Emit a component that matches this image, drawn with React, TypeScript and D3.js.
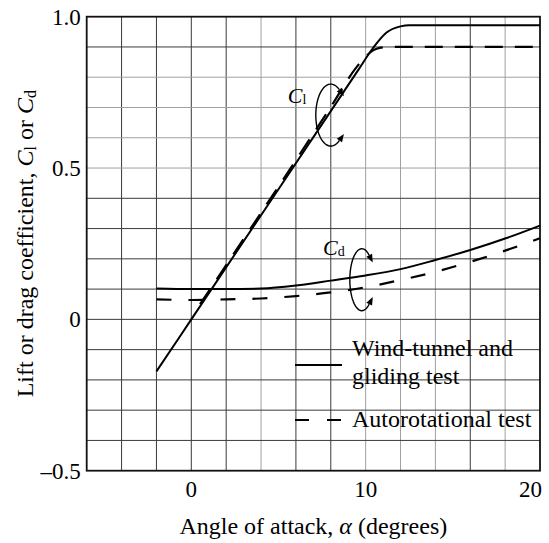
import React from 'react';
import * as d3 from 'd3';

// Lift coefficient, wind-tunnel and gliding test
const alphaClWind = [-2, 0, 4, 8, 9.6, 10.4, 11.2, 12, 12.5, 16, 20];
const clWind = [-0.172, 0, 0.344, 0.688, 0.826, 0.895, 0.948, 0.968, 0.972, 0.972, 0.972];

// Lift coefficient, autorotational test
const alphaClAuto = [0.5, 4, 8, 9.5, 10.0, 10.4, 10.8, 11.3, 12, 16, 20];
const clAuto = [0.05, 0.352, 0.702, 0.835, 0.868, 0.888, 0.897, 0.9, 0.9, 0.9, 0.9];

// Drag coefficient
const alphaCd = [-2, 0, 2, 4, 6, 8, 10, 12, 14, 16, 18, 20];
const cdWind = [0.102, 0.1, 0.1, 0.102, 0.112, 0.128, 0.145, 0.166, 0.196, 0.229, 0.267, 0.31];
const cdAuto = [0.066, 0.064, 0.066, 0.069, 0.077, 0.089, 0.106, 0.13, 0.157, 0.19, 0.227, 0.268];

const xTicks = [0, 10, 20];
const xTickLabels = ['0', '10', '20'];
const yTicks = [1.0, 0.5, 0, -0.5];
const yTickLabels = ['1.0', '0.5', '0', '\u20130.5'];

const legendWindLines = ['Wind-tunnel and', 'gliding test'];
const legendAutoLine = 'Autorotational test';

const W = 549;
const H = 543;
const left = 86.7;
const right = 540;
const top = 16.7;
const bottom = 470.7;

const x = d3.scaleLinear().domain([-6, 20]).range([left, right]);
const y = d3.scaleLinear().domain([-0.5, 1.0]).range([bottom, top]);

const xGrid = d3.range(-4, 20, 2);
const yGrid = d3.range(-4, 10).map((k) => k / 10);
const darkX = new Set([-4, -2, 0, 2, 6, 8, 16]);
const darkY = new Set([0.9, 0.4, 0.3, 0.2, 0.1, 0, -0.1, -0.2, -0.3, -0.4]);

const serif = "'Liberation Serif', 'Times New Roman', serif";

const line = d3
  .line<[number, number]>()
  .x((d) => x(d[0]))
  .y((d) => y(d[1]))
  .curve(d3.curveMonotoneX);

const zip = (a: number[], b: number[]) => a.map((v, i) => [v, b[i]] as [number, number]);

// Curved double-headed arrow drawn as a partial ellipse around a pair of curves
function curlyArrow(cxData: number, cyData: number, rx: number, ry: number, a0: number) {
  const cx = x(cxData);
  const cy = y(cyData);
  const start = (-a0 * Math.PI) / 180;
  const end = start - (2 * Math.PI - (2 * a0 * Math.PI) / 180);
  const pts = d3.range(0, 41).map((i) => {
    const t = start + ((end - start) * i) / 40;
    return [cx + rx * Math.cos(t), cy + ry * Math.sin(t)] as [number, number];
  });
  const path = d3.line()(pts) || '';
  const head = (t: number, sign: number) => {
    const px = cx + rx * Math.cos(t);
    const py = cy + ry * Math.sin(t);
    let dx = -rx * Math.sin(t) * sign;
    let dy = ry * Math.cos(t) * sign;
    const n = Math.hypot(dx, dy);
    dx /= n;
    dy /= n;
    const len = 8;
    const w = 3.2;
    const tip = [px + dx * len, py + dy * len];
    const b1 = [px - dy * w, py + dx * w];
    const b2 = [px + dy * w, py - dx * w];
    return `M${tip[0]},${tip[1]}L${b1[0]},${b1[1]}L${b2[0]},${b2[1]}Z`;
  };
  return { path, heads: [head(start, 1), head(end, -1)] };
}

export default function App() {
  const clArrow = curlyArrow(8.0, 0.675, 15, 31, 55);
  const cdArrow = curlyArrow(9.78, 0.131, 12, 31, 52);

  return (
    <svg
      width={W}
      height={H}
      style={{ position: 'absolute', left: 0, top: 0, background: '#fff' }}
      fontFamily={serif}
    >
      <rect x={0} y={0} width={W} height={H} fill="#fff" />
      {/* grid */}
      {xGrid.map((g) => (
        <line
          key={`gx${g}`}
          x1={x(g)}
          x2={x(g)}
          y1={top}
          y2={bottom}
          stroke={darkX.has(g) ? '#3a3a3a' : '#a0a0a0'}
          strokeWidth={1}
        />
      ))}
      {yGrid.map((g) => (
        <line
          key={`gy${g}`}
          x1={left}
          x2={right}
          y1={y(g)}
          y2={y(g)}
          stroke={darkY.has(Math.round(g * 10) / 10) ? '#3a3a3a' : '#a0a0a0'}
          strokeWidth={1}
        />
      ))}
      {/* frame */}
      <rect x={left} y={top} width={right - left} height={bottom - top} fill="none" stroke="#111" strokeWidth={1.8} />

      {/* curves */}
      <path d={line(zip(alphaClWind, clWind)) || ''} fill="none" stroke="#000" strokeWidth={2} />
      <path
        d={line(zip(alphaClAuto, clAuto)) || ''}
        fill="none"
        stroke="#000"
        strokeWidth={2.2}
        strokeDasharray="18,12"
      />
      <path d={line(zip(alphaCd, cdWind)) || ''} fill="none" stroke="#000" strokeWidth={2} />
      <path
        d={line(zip(alphaCd, cdAuto)) || ''}
        fill="none"
        stroke="#000"
        strokeWidth={2.2}
        strokeDasharray="15,17"
      />

      {/* curve annotations */}
      <path d={clArrow.path} fill="none" stroke="#000" strokeWidth={1.4} />
      {clArrow.heads.map((h, i) => (
        <path key={`ch${i}`} d={h} fill="#000" />
      ))}
      <path d={cdArrow.path} fill="none" stroke="#000" strokeWidth={1.4} />
      {cdArrow.heads.map((h, i) => (
        <path key={`dh${i}`} d={h} fill="#000" />
      ))}
      <text x={x(5.53)} y={y(0.715)} fontSize={22}>
        <tspan fontStyle="italic">C</tspan>
        <tspan fontSize={14} dy={1}>l</tspan>
      </text>
      <text x={x(7.55)} y={y(0.212)} fontSize={22}>
        <tspan fontStyle="italic">C</tspan>
        <tspan fontSize={14} dy={1}>d</tspan>
      </text>

      {/* legend */}
      <line x1={295} x2={342} y1={365} y2={365} stroke="#000" strokeWidth={2} />
      <text x={352} y={356} fontSize={24}>{legendWindLines[0]}</text>
      <text x={352} y={384} fontSize={24}>{legendWindLines[1]}</text>
      <line x1={295} x2={342} y1={420} y2={420} stroke="#000" strokeWidth={2} strokeDasharray="14,18" />
      <text x={352} y={427} fontSize={24}>{legendAutoLine}</text>

      {/* axes tick labels */}
      {yTicks.map((t, i) => (
        <text key={`yt${t}`} x={left - 6} y={y(t) + 8} fontSize={23} textAnchor="end">
          {yTickLabels[i]}
        </text>
      ))}
      {xTicks.map((t, i) => {
        const last = i === xTicks.length - 1;
        return (
          <text
            key={`xt${t}`}
            x={last ? x(t) + 2 : x(t)}
            y={bottom + 26.5}
            fontSize={23}
            textAnchor={last ? 'end' : 'middle'}
          >
            {xTickLabels[i]}
          </text>
        );
      })}

      {/* axis titles */}
      <text x={(left + right) / 2} y={534} fontSize={24} textAnchor="middle">
        Angle of attack, <tspan fontStyle="italic">α</tspan> (degrees)
      </text>
      <text
        transform={`translate(33, ${(top + bottom) / 2}) rotate(-90)`}
        fontSize={24}
        textAnchor="middle"
      >
        Lift or drag coefficient, <tspan fontStyle="italic">C</tspan>
        <tspan fontSize={16} dy={3}>l</tspan>
        <tspan dy={-3}> or </tspan>
        <tspan fontStyle="italic">C</tspan>
        <tspan fontSize={16} dy={3}>d</tspan>
      </text>
    </svg>
  );
}
